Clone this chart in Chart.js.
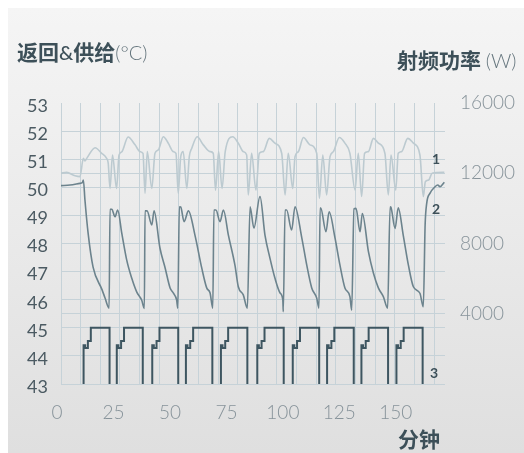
<!DOCTYPE html>
<html>
<head>
<meta charset="utf-8">
<script src="https://cdn.jsdelivr.net/npm/chart.js@4.4.1/dist/chart.umd.min.js"></script>
<style>
    body { margin: 0; background: #fff; }
    #wrap { position: relative; width: 524px; height: 453px; overflow: hidden; }
    #panel { position: absolute; left: 8px; top: 8px; right: 0; bottom: 0; background: linear-gradient(#f5f5f5, #dfdfdf); }
    #chart { position: absolute; left: 0; top: 0; }
    .label { position: absolute; color: #3d5059; font-family: "Noto Sans CJK SC", sans-serif; font-size: 21px; line-height: 21px; white-space: nowrap; }
    .label b { font-weight: 700; }
    .label .amp { font-family: Lato, sans-serif; font-weight: 500; font-size: 20px; }
    .label .unit { font-family: Lato, sans-serif; font-weight: 300; font-size: 20px; color: #66767e; }
    .tag { position: absolute; color: #3d5059; font-family: Lato, sans-serif; font-weight: 700; font-size: 14px; line-height: 14px; }
</style>
</head>
<body>
<div id="wrap">
    <div id="panel"></div>
    <canvas id="chart" width="524" height="453"></canvas>
    <div class="label" style="left:17px; top:41px;"><b>返回</b><span class="amp">&amp;</span><b>供给</b><span class="unit">(°C)</span></div>
    <div class="label" style="left:397px; top:49px;"><b>射频功率</b> <span class="unit">(W)</span></div>
    <div class="label" style="left:398px; top:428px;"><b>分钟</b></div>
    <div class="tag" style="left:432px; top:152px;">1</div>
    <div class="tag" style="left:432px; top:202px;">2</div>
    <div class="tag" style="left:430px; top:366px;">3</div>
</div>
<script>
// tick values
const minuteTicks = [0, 25, 50, 75, 100, 125, 150];
const tempTicks = [43, 44, 45, 46, 47, 48, 49, 50, 51, 52, 53];
const powerTicks = [4000, 8000, 12000, 16000];
const gridColumns = [0, 1, 2, 3, 4, 5, 6, 7, 8, 9, 10, 11, 12, 13, 14, 15, 16, 17, 18, 19];

// line 1 (light)
const line1Time = [0, 2.5, 6.2, 8.4, 9.9, 10.6, 11.4, 15.1, 18.0, 20.2, 20.9, 21.7, 22.8, 24.6, 25.7, 26.9, 29.7, 32.8, 35.0, 36.3,
    37.2, 38.2, 40.2, 41.6, 43.1, 45.3, 47.5, 49.7, 50.9, 51.9, 53.0, 54.1, 55.7, 56.8, 57.9, 60.3, 63.0, 66.0, 67.4, 68.4,
    69.8, 71.3, 72.7, 76.0, 78.5, 80.7, 82.2, 82.9, 84.4, 86.3, 87.8, 89.6, 92.2, 94.7, 97.7, 99.2, 100.6, 102.6, 103.6, 105.1,
    107.3, 110.2, 113.2, 114.4, 115.9, 117.6, 119.1, 120.6, 123.2, 125.7, 127.9, 130.2, 131.6, 133.1, 134.4, 136.1, 138.3, 140.5, 143.4, 144.9,
    146.1, 148.2, 149.3, 150.8, 153.5, 156.0, 158.9, 160.4, 161.3, 162.8, 164.3, 169.7];
const line1Temp = [50.50, 50.53, 50.41, 50.38, 51.03, 50.94, 51.03, 51.41, 51.21, 51.03, 50.86, 49.96, 51.15, 49.96, 51.15, 51.26, 51.79, 51.51, 51.27, 51.21,
    49.79, 51.27, 49.96, 51.21, 51.33, 51.80, 51.57, 51.27, 51.21, 49.79, 51.09, 51.27, 49.96, 51.09, 51.39, 51.80, 51.51, 51.27, 51.21, 49.90,
    51.27, 49.96, 51.27, 51.80, 51.57, 51.27, 51.15, 49.73, 51.21, 49.90, 51.21, 51.27, 51.74, 51.57, 51.21, 49.73, 51.21, 49.96, 51.09, 51.27,
    51.77, 51.51, 51.21, 49.61, 51.15, 49.73, 51.09, 51.27, 51.77, 51.57, 51.21, 49.90, 51.21, 49.67, 51.21, 51.27, 51.74, 51.57, 51.21, 49.73,
    51.15, 49.90, 51.21, 51.27, 51.74, 51.57, 51.15, 49.67, 50.20, 50.26, 50.50, 50.53];

// line 2 (dark sawtooth)
const line2Time = [0, 4.0, 8.4, 9.5, 9.9, 10.6, 12.0, 14.2, 18.2, 19.5, 21.3, 21.7, 22.5, 23.9, 25.1, 26.9, 29.1, 31.3, 33.5, 35.7,
    36.9, 37.2, 38.1, 40.2, 41.2, 43.8, 46.1, 48.3, 49.7, 51.2, 51.7, 52.4, 53.0, 54.5, 56.4, 59.3, 62.3, 64.5, 66.0, 67.2,
    67.7, 68.6, 70.4, 71.9, 74.1, 77.0, 78.5, 80.7, 82.5, 83.7, 85.4, 88.1, 90.3, 92.5, 94.7, 97.0, 98.2, 98.4, 99.2, 99.9,
    102.1, 103.6, 106.6, 108.8, 111.0, 113.2, 114.2, 114.7, 115.0, 117.3, 118.7, 121.3, 123.5, 125.7, 127.9, 128.7, 129.7, 130.6, 132.4, 133.4,
    136.1, 138.3, 140.5, 142.7, 144.6, 145.7, 146.0, 147.9, 149.3, 151.5, 153.8, 156.0, 158.9, 160.4, 161.2, 161.9, 163.4, 165.6, 166.8, 167.8,
    169.7];
const line2Temp = [50.06, 50.08, 50.14, 50.17, 50.26, 49.55, 48.37, 47.16, 46.35, 46.06, 45.70, 49.22, 49.22, 48.95, 49.19, 48.37, 47.41, 46.77, 46.28, 45.99,
    45.69, 49.16, 49.16, 48.66, 49.16, 47.84, 47.13, 46.42, 46.24, 45.99, 45.70, 49.31, 49.30, 48.78, 49.16, 48.30, 47.13, 46.42, 46.24, 45.70,
    49.19, 49.19, 48.78, 49.19, 48.30, 47.23, 46.46, 46.17, 45.70, 49.31, 48.55, 49.67, 48.30, 47.48, 46.77, 46.24, 45.99, 45.57, 49.19, 49.19,
    48.48, 49.31, 48.20, 47.23, 46.42, 46.06, 45.70, 49.26, 49.26, 48.42, 49.13, 48.20, 47.23, 46.42, 46.11, 45.63, 49.23, 49.25, 48.42, 49.07,
    47.71, 46.95, 46.42, 46.11, 45.70, 49.31, 49.30, 48.54, 49.27, 48.30, 47.23, 46.46, 46.23, 45.75, 48.66, 49.43, 49.79, 50.02, 50.08, 50.02,
    50.18];

// line 3 (RF power pulses, null = gap between pulses)
const powerTime = [
    10.0, 10.0, 10.7, 11.9, 13.2, 21.5, 21.5,
    24.7, 24.7, 25.4, 26.6, 27.9, 36.2, 36.2,
    40.4, 40.4, 41.1, 42.3, 43.6, 51.9, 51.9,
    55.3, 55.3, 56.0, 57.2, 58.5, 67.0, 67.0,
    70.8, 70.8, 71.5, 72.7, 74.0, 82.5, 82.5,
    86.9, 86.9, 87.6, 88.8, 90.1, 98.6, 98.6,
    102.6, 102.6, 103.3, 104.5, 105.8, 114.3, 114.3,
    117.8, 117.8, 118.5, 119.7, 121.0, 129.6, 129.6,
    133.0, 133.0, 133.7, 134.9, 136.2, 144.8, 144.8,
    148.5, 148.5, 149.2, 150.4, 151.7, 160.1];
const powerWatts = [
    0, 2200, 2050, 2450, 3200, 0, null,
    0, 2200, 2050, 2450, 3200, 0, null,
    0, 2200, 2050, 2450, 3200, 0, null,
    0, 2200, 2050, 2450, 3200, 0, null,
    0, 2200, 2050, 2450, 3200, 0, null,
    0, 2200, 2050, 2450, 3200, 0, null,
    0, 2200, 2050, 2450, 3200, 0, null,
    0, 2200, 2050, 2450, 3200, 0, null,
    0, 2200, 2050, 2450, 3200, 0, null,
    0, 2200, 2050, 2450, 3200, 0];

const gridColor = '#c6d2d8';

function toPoints(xs, ys) {
    return xs.map((x, i) => ({ x: x, y: ys[i] }));
}

function setTicks(values) {
    return axis => { axis.ticks = values.map(v => ({ value: v })); };
}

document.addEventListener('DOMContentLoaded', () => {
    initializeChart();
});

function initializeChart() {
    const ctx = document.getElementById('chart').getContext('2d');
    new Chart(ctx, {
        type: 'line',
        data: {
            datasets: [{
                data: toPoints(line1Time, line1Temp),
                yAxisID: 'yTemp',
                borderColor: '#bccad0',
                borderWidth: 1.6,
                cubicInterpolationMode: 'monotone'
            }, {
                data: toPoints(line2Time, line2Temp),
                yAxisID: 'yTemp',
                borderColor: '#6c838d',
                borderWidth: 1.6,
                cubicInterpolationMode: 'monotone'
            }, {
                data: toPoints(powerTime, powerWatts),
                yAxisID: 'yPower',
                borderColor: '#3e5661',
                borderWidth: 2,
                stepped: 'before'
            }]
        },
        options: {
            responsive: false,
            animation: false,
            events: [],
            elements: { point: { radius: 0 } },
            layout: { padding: { top: 103, left: 0, right: 0, bottom: 0 } },
            plugins: { legend: { display: false }, tooltip: { enabled: false } },
            scales: {
                x: {
                    type: 'linear',
                    position: 'bottom',
                    min: 0,
                    max: 170,
                    afterBuildTicks: setTicks(minuteTicks),
                    afterFit: s => { s.height = 69; },
                    grid: { display: false },
                    border: { display: false },
                    ticks: {
                        padding: 9,
                        labelOffset: -4,
                        color: '#87939a',
                        font: { family: 'Lato', size: 19, weight: 300 },
                        callback: v => String(v)
                    }
                },
                xGrid: {
                    type: 'linear',
                    position: 'bottom',
                    min: 0,
                    max: 19.56,
                    afterBuildTicks: setTicks(gridColumns),
                    afterFit: s => { s.height = 0; },
                    grid: { color: gridColor, lineWidth: 1, drawTicks: false },
                    border: { display: false },
                    ticks: { display: false }
                },
                yTemp: {
                    type: 'linear',
                    position: 'left',
                    min: 43,
                    max: 53,
                    afterBuildTicks: setTicks(tempTicks),
                    afterFit: s => { s.width = 61; },
                    grid: {
                        drawTicks: false,
                        color: c => c.tick && c.tick.value === 53 ? 'rgba(0,0,0,0)' : gridColor
                    },
                    border: { display: false },
                    ticks: {
                        padding: 13,
                        labelOffset: 3,
                        color: '#4b5a62',
                        font: { family: 'Lato', size: 18, weight: 400 },
                        callback: v => String(v)
                    }
                },
                yPower: {
                    type: 'linear',
                    position: 'right',
                    min: 0,
                    max: 16000,
                    afterBuildTicks: setTicks(powerTicks),
                    afterFit: s => { s.width = 79; },
                    grid: {
                        drawTicks: false,
                        color: c => c.tick && c.tick.value === 16000 ? 'rgba(0,0,0,0)' : gridColor
                    },
                    border: { display: false },
                    ticks: {
                        padding: 15,
                        color: '#87939a',
                        font: { family: 'Lato', size: 19, weight: 300 },
                        callback: v => String(v)
                    }
                }
            }
        }
    });
}
</script>
</body>
</html>
